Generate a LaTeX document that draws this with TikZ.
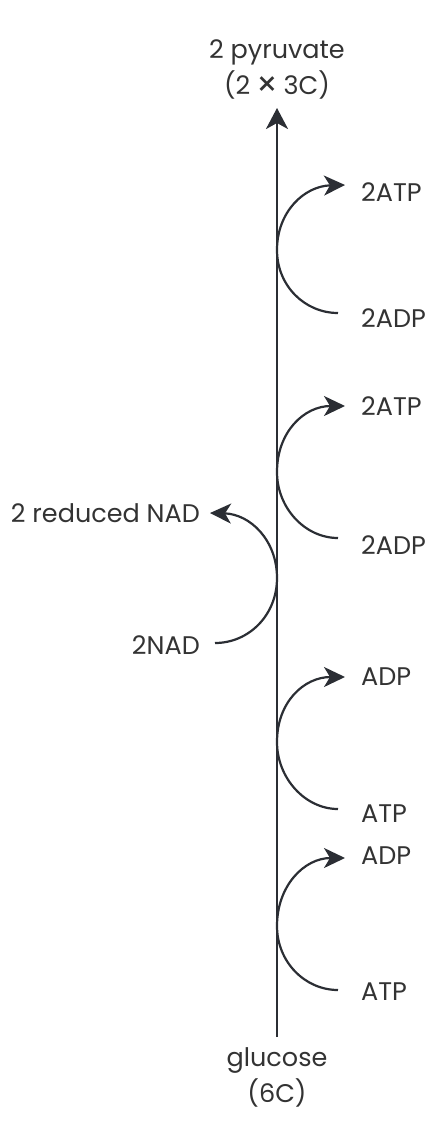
\documentclass[tikz,border=0pt]{standalone}
\usepackage{fontspec}
\setmainfont{Poppins}
\usetikzlibrary{arrows.meta}
\definecolor{ink}{HTML}{2B2E34}
\definecolor{txt}{HTML}{333333}
\newcommand{\bigtimes}{\hspace{-1pt}\raisebox{-2.5pt}{\fontsize{34}{36}\selectfont ×}\hspace{-1pt}}
\begin{document}
\begin{tikzpicture}[x=1pt,y=-1pt,
  lbl/.style={font=\fontsize{25.5}{36}\selectfont, text=txt, inner sep=0pt},
  flow/.style={draw=ink, line width=2.8pt, -{Stealth[length=21pt,width=22pt,inset=6pt]}},
  cyc/.style={draw=ink, line width=2.2pt, -{Stealth[length=21pt,width=20pt,inset=6pt]}}
]
\useasboundingbox (0,0) rectangle (438,1128);

% end labels
\node[lbl, align=center, anchor=south] (pyr) at (277,99) {2 pyruvate\\(2 \bigtimes{} 3C)};
\node[lbl, align=center, anchor=north] (gluc) at (277,1047) {glucose\\(6C)};

% right labels
\node[lbl, anchor=west] (atpA) at (361,192) {2ATP};
\node[lbl, anchor=west] (adpA) at (361,318) {2ADP};
\node[lbl, anchor=west] (atpB) at (361,406) {2ATP};
\node[lbl, anchor=west] (adpB) at (361,545) {2ADP};
\node[lbl, anchor=west] (adpC) at (361,677) {ADP};
\node[lbl, anchor=west] (atpC) at (361,814) {ATP};
\node[lbl, anchor=west] (adpD) at (361,856) {ADP};
\node[lbl, anchor=west] (atpD) at (361,992) {ATP};

% left labels
\node[lbl, anchor=east] (rnad) at (200,513) {2 reduced NAD};
\node[lbl, anchor=east] (nad) at (200,645) {2NAD};

% main pathway
\draw[flow] ([yshift=10pt]gluc.north) -- ([yshift=-9pt]pyr.south);

% ATP / ADP cycles
\draw[cyc] ([xshift=-23pt,yshift=5pt]adpA.west) .. controls (305,313) and (277,286) .. (277,250)
  .. controls (277,212) and (304,186) .. ([xshift=-16pt,yshift=7pt]atpA.west);
\draw[cyc] ([xshift=-23pt,yshift=7pt]adpB.west) .. controls (305,538) and (277,508) .. (277,472)
  .. controls (277,432) and (304,406) .. ([xshift=-16pt]atpB.west);
\draw[cyc] ([xshift=-23pt,yshift=5pt]atpC.west) .. controls (305,809) and (277,778) .. (277,742)
  .. controls (277,702) and (304,677) .. ([xshift=-16pt]adpC.west);
\draw[cyc] ([xshift=-23pt,yshift=2pt]atpD.west) .. controls (305,990) and (277,962) .. (277,926)
  .. controls (277,886) and (304,858) .. ([xshift=-16pt,yshift=-2pt]adpD.west);

% NAD cycle
\draw[cyc] ([xshift=15pt,yshift=2pt]nad.east) .. controls (249,643) and (277,615) .. (277,578)
  .. controls (277,540) and (250,514) .. ([xshift=10pt]rnad.east);
\end{tikzpicture}
\end{document}
